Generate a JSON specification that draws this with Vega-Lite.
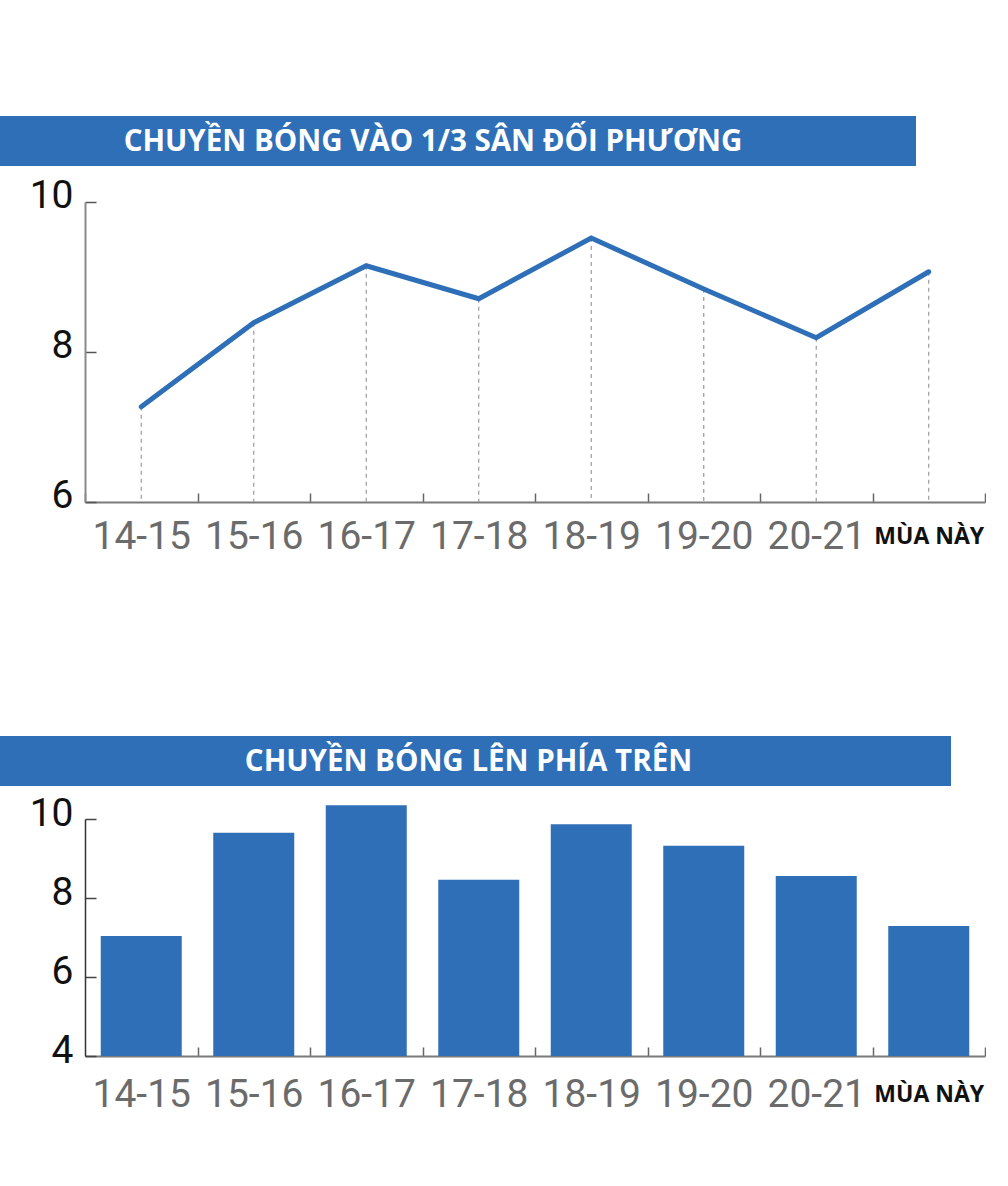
{
  "$schema": "https://vega.github.io/schema/vega-lite/v6.json",
  "padding": {"top": 116, "left": 0, "right": 0, "bottom": 40},
  "background": "white",
  "config": {"view": {"stroke": null}},
  "datasets": {
    "line": [
      {"season": "14-15", "value": 7.27},
      {"season": "15-16", "value": 8.39},
      {"season": "16-17", "value": 9.15},
      {"season": "17-18", "value": 8.71},
      {"season": "18-19", "value": 9.52},
      {"season": "19-20", "value": 8.84},
      {"season": "20-21", "value": 8.19},
      {"season": "MÙA NÀY", "value": 9.07}
    ],
    "bars": [
      {"season": "14-15", "value": 7.04},
      {"season": "15-16", "value": 9.65},
      {"season": "16-17", "value": 10.35},
      {"season": "17-18", "value": 8.46},
      {"season": "18-19", "value": 9.87},
      {"season": "19-20", "value": 9.32},
      {"season": "20-21", "value": 8.56},
      {"season": "MÙA NÀY", "value": 7.29}
    ],
    "titles": [
      {"panel": "a", "title": "CHUYỀN BÓNG VÀO 1/3 SÂN ĐỐI PHƯƠNG"},
      {"panel": "b", "title": "CHUYỀN BÓNG LÊN PHÍA TRÊN"}
    ]
  },
  "spacing": 180,
  "vconcat": [
    {
      "spacing": 10,
      "vconcat": [
        {
          "width": 916,
          "height": 50,
          "data": {"name": "titles"},
          "transform": [{"filter": "datum.panel == 'a'"}],
          "view": {"fill": "#2e6fb7", "stroke": null},
          "mark": {"type": "text", "font": "Open Sans", "fontWeight": "bold", "fontSize": 29.5, "color": "white", "dx": -25, "dy": 1, "baseline": "middle"},
          "encoding": {"text": {"field": "title"}}
        },
        {
          "width": 985,
          "height": 300,
          "data": {"name": "line"},
          "encoding": {
            "x": {
              "field": "season", "type": "nominal", "sort": null,
              "scale": {"type": "band", "paddingInner": 0, "paddingOuter": 0, "range": [85, 985]},
              "axis": {
                "title": null, "labelAngle": 0, "domainColor": "#7a7a7a", "domainWidth": 2,
                "tickBand": "extent", "tickSize": -9, "tickColor": "#666", "tickWidth": 1.5,
                "labelBaseline": "middle", "labelPadding": 43,
                "labelFont": {"condition": {"test": "datum.value == 'MÙA NÀY'", "value": "Open Sans"}, "value": "Roboto"},
                "labelFontSize": {"condition": {"test": "datum.value == 'MÙA NÀY'", "value": 23}, "value": 39},
                "labelFontWeight": {"condition": {"test": "datum.value == 'MÙA NÀY'", "value": "bold"}, "value": "normal"},
                "labelColor": {"condition": {"test": "datum.value == 'MÙA NÀY'", "value": "#111111"}, "value": "#6b6b6b"}
              }
            }
          },
          "layer": [
            {
              "mark": {"type": "rule", "strokeDash": [4, 4], "color": "#9a9a9a", "strokeWidth": 1.2},
              "encoding": {
                "y": {
                  "field": "value", "type": "quantitative",
                  "scale": {"domain": [6, 10], "zero": false, "nice": false},
                  "axis": {
                    "title": null, "values": [6, 8, 10], "format": "d", "grid": false, "offset": -85,
                    "domainColor": "#8a8a8a", "domainWidth": 2,
                    "tickColor": "#555", "tickSize": -11, "tickWidth": 1.5,
                    "labelFont": "Roboto", "labelFontSize": 39, "labelColor": "#111111",
                    "labelPadding": 23, "labelOffset": -7, "labelBaseline": "middle"
                  }
                },
                "y2": {"datum": 6}
              }
            },
            {
              "mark": {"type": "line", "color": "#2e6fb7", "strokeWidth": 5, "strokeCap": "round"},
              "encoding": {
                "y": {"field": "value", "type": "quantitative"}
              }
            }
          ]
        }
      ]
    },
    {
      "spacing": 8,
      "vconcat": [
        {
          "width": 951,
          "height": 50,
          "data": {"name": "titles"},
          "transform": [{"filter": "datum.panel == 'b'"}],
          "view": {"fill": "#2e6fb7", "stroke": null},
          "mark": {"type": "text", "font": "Open Sans", "fontWeight": "bold", "fontSize": 29.5, "color": "white", "dx": -7, "dy": 1, "baseline": "middle"},
          "encoding": {"text": {"field": "title"}}
        },
        {
          "width": 985,
          "height": 237,
          "data": {"name": "bars"},
          "mark": {"type": "bar", "color": "#2e6fb7", "clip": false},
          "encoding": {
            "x": {
              "field": "season", "type": "nominal", "sort": null,
              "scale": {"type": "band", "paddingInner": 0.28, "paddingOuter": 0.14, "range": [85, 985]},
              "axis": {
                "title": null, "labelAngle": 0, "domainColor": "#7a7a7a", "domainWidth": 2,
                "bandPosition": 1, "tickExtra": true, "tickOffset": 15.75,
                "tickSize": -9, "tickColor": "#666", "tickWidth": 1.5,
                "labelBaseline": "middle", "labelPadding": 47, "labelOffset": -15.75,
                "labelFont": {"condition": {"test": "datum.value == 'MÙA NÀY'", "value": "Open Sans"}, "value": "Roboto"},
                "labelFontSize": {"condition": {"test": "datum.value == 'MÙA NÀY'", "value": 23}, "value": 39},
                "labelFontWeight": {"condition": {"test": "datum.value == 'MÙA NÀY'", "value": "bold"}, "value": "normal"},
                "labelColor": {"condition": {"test": "datum.value == 'MÙA NÀY'", "value": "#111111"}, "value": "#6b6b6b"}
              }
            },
            "y": {
              "field": "value", "type": "quantitative",
              "scale": {"domain": [4, 10], "zero": false, "nice": false},
              "axis": {
                "title": null, "values": [4, 6, 8, 10], "format": "d", "grid": false, "offset": -85,
                "domainColor": "#333333", "domainWidth": 1.5,
                "tickColor": "#444", "tickSize": -11, "tickWidth": 1.5,
                "labelFont": "Roboto", "labelFontSize": 39, "labelColor": "#111111",
                "labelPadding": 23, "labelOffset": -6, "labelBaseline": "middle"
              }
            },
            "y2": {"datum": 4}
          }
        }
      ]
    }
  ]
}
